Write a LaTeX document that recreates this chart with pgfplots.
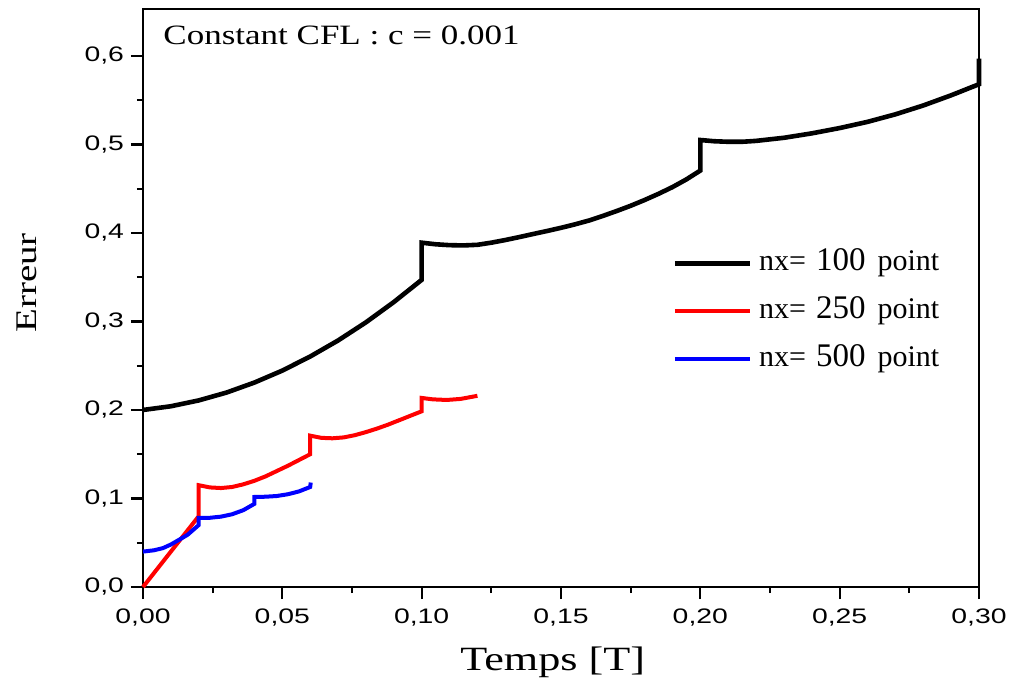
\documentclass[border=0pt]{standalone}
\usepackage{fontspec}
\usepackage{pgfplots}
\pgfplotsset{compat=1.18}
\setmainfont{Liberation Serif}
\newfontfamily\xtickfont{Liberation Sans}[FakeStretch=1.35]
\newfontfamily\ytickfont{Liberation Sans}[FakeStretch=1.35]
\newfontfamily\labfont{Liberation Serif}[FakeStretch=1.3]
\newfontfamily\titfont{Liberation Serif}[FakeStretch=1.25]

% series
\pgfplotstableread{
x y
0.000 0.2000
0.010 0.2042
0.020 0.2108
0.030 0.2197
0.040 0.2310
0.050 0.2445
0.060 0.2604
0.070 0.2785
0.080 0.2990
0.090 0.3219
0.100 0.3470
0.100 0.3890
0.105 0.3872
0.110 0.3862
0.115 0.3859
0.120 0.3866
0.125 0.3890
0.130 0.3920
0.135 0.3953
0.140 0.3988
0.145 0.4022
0.150 0.4058
0.155 0.4097
0.160 0.4140
0.165 0.4192
0.170 0.4248
0.175 0.4307
0.180 0.4372
0.185 0.4442
0.190 0.4518
0.195 0.4605
0.200 0.4705
0.200 0.5050
0.205 0.5036
0.210 0.5030
0.215 0.5030
0.220 0.5040
0.230 0.5075
0.240 0.5125
0.250 0.5185
0.260 0.5255
0.270 0.5340
0.280 0.5440
0.290 0.5555
0.300 0.5680
0.300 0.5970
}\nxcent
\pgfplotstableread{
x y
0.000 0.0000
0.020 0.0800
0.020 0.1150
0.024 0.1125
0.028 0.1118
0.032 0.1130
0.036 0.1160
0.040 0.1200
0.044 0.1250
0.048 0.1310
0.052 0.1370
0.056 0.1435
0.060 0.1500
0.060 0.1710
0.064 0.1685
0.068 0.1680
0.072 0.1690
0.076 0.1715
0.080 0.1750
0.084 0.1790
0.088 0.1835
0.092 0.1885
0.096 0.1935
0.100 0.1985
0.100 0.2136
0.104 0.2120
0.109 0.2113
0.114 0.2125
0.120 0.2160
}\nxdeuxcent
\pgfplotstableread{
x y
0.000 0.0400
0.004 0.0415
0.0072 0.0440
0.010 0.0480
0.0133 0.0540
0.016 0.0590
0.020 0.0700
0.020 0.0780
0.024 0.0782
0.028 0.0795
0.032 0.0822
0.036 0.0868
0.040 0.0940
0.040 0.1017
0.044 0.1020
0.048 0.1028
0.052 0.1048
0.056 0.1080
0.060 0.1130
0.0602 0.1180
}\nxcinqcent

\newcommand{\nxentry}[1]{nx=\hspace{5pt}{\fontsize{16.5}{17}\selectfont #1}\hspace{6pt}point}

\begin{document}
\begin{tikzpicture}
\begin{axis}[
    scale only axis,
    width=418pt, height=289pt,
    xmin=0, xmax=0.30,
    ymin=0, ymax=0.653,
    xtick={0,0.05,0.10,0.15,0.20,0.25,0.30},
    ytick={0,0.1,0.2,0.3,0.4,0.5,0.6},
    minor x tick num=1, minor y tick num=1,
    xtick pos=bottom, ytick pos=left,
    tick align=outside,
    major tick length=6pt, minor tick length=3pt,
    axis line style={line width=1.2pt},
    every tick/.style={black, line width=1.1pt},
    scaled ticks=false,
    xticklabel style={font=\xtickfont\fontsize{10.5}{11}\selectfont, yshift=-1.5pt,
        /pgf/number format/.cd, fixed, fixed zerofill, precision=2, use comma, assume math mode=true},
    yticklabel style={font=\ytickfont\fontsize{10.5}{11}\selectfont,
        /pgf/number format/.cd, fixed, fixed zerofill, precision=1, use comma, assume math mode=true},
    xlabel={Temps [T]},
    ylabel={Erreur},
    every axis x label/.style={at={([yshift=-41.5pt]rel axis cs:0.49,0)}, anchor=base,
        font=\labfont\fontsize{17}{18}\selectfont},
    every axis y label/.style={at={([xshift=-58pt]rel axis cs:0,0.526)}, anchor=center, rotate=90,
        font=\labfont\fontsize{15}{17}\selectfont},
    clip=false,
    legend style={draw=none, fill=none, at={(rel axis cs:0.633,0.585)}, anchor=north west,
        inner sep=0pt, row sep=10pt, column sep=3.5pt,
        font=\fontsize{15}{17}\selectfont,
        nodes={text height=10.5pt, text depth=3.5pt, inner sep=0pt}},
    legend cell align=left,
    legend image code/.code={\draw[#1] (0pt,0pt) -- (37.5pt,0pt);},
]
\addplot[black, line width=2.3pt, line join=miter] table {\nxcent};
\addlegendentry{\nxentry{100}}
\addplot[red, line width=2pt, line join=miter] table {\nxdeuxcent};
\addlegendentry{\nxentry{250}}
\addplot[blue, line width=2pt, line join=miter] table {\nxcinqcent};
\addlegendentry{\nxentry{500}}
\node[anchor=base west, font=\titfont\fontsize{14}{16}\selectfont]
    at (rel axis cs:0.016,0.939) {Constant CFL : c = 0.001};
\end{axis}
\pgfresetboundingbox
\path ([shift={(-71.5pt,-49pt)}]current axis.south west) rectangle ([shift={(16pt,4.5pt)}]current axis.north east);
\end{tikzpicture}
\end{document}
